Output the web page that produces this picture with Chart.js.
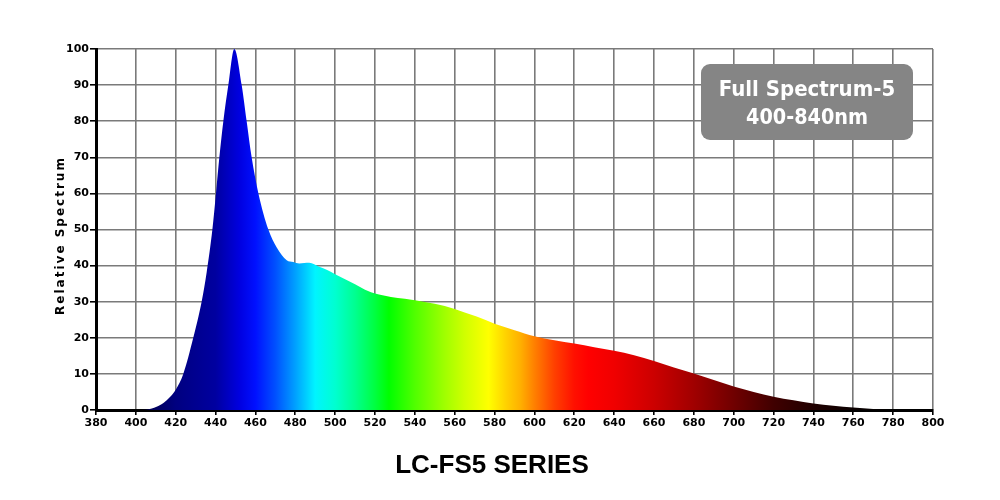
<!DOCTYPE html>
<html>
<head>
<meta charset="utf-8">
<script src="https://cdn.jsdelivr.net/npm/chart.js@4/dist/chart.umd.min.js"></script>
<style>
  html, body { margin: 0; padding: 0; background: #fff; }
  #wrap { width: 1000px; height: 500px; }
</style>
</head>
<body>
<div id="wrap"><canvas id="spectrumChart" width="1000" height="500"></canvas></div>
<script>
// Wavelength (nm) and relative intensity
const wavelengths = [380, 400, 405, 408, 410.4, 414, 417, 420, 423.8, 428.8, 433, 435.5, 438.4, 440.2, 441.9,
    443.9, 446.4, 449.4, 453.1, 455.6, 458.1, 461.5, 466.5, 470.7, 475.7, 479, 482, 487, 492, 496, 500,
    505, 510, 515, 518, 522, 528, 535, 540, 550, 560, 565, 571, 580, 590, 600, 610, 620, 630, 640, 650,
    660, 670, 680, 690, 700, 710, 720, 730, 740, 750, 760, 770, 780, 790, 800];
const intensity = [0, 0, 0.1, 0.4, 0.9, 2, 3.5, 5.6, 10, 20, 30, 38, 50, 60, 70,
    80, 90, 100, 90, 80, 70, 60, 50, 45, 41.5, 41, 40.6, 40.8, 39.7, 38.8, 37.6,
    36.2, 34.8, 33.3, 32.6, 32, 31.3, 30.8, 30.4, 29.4, 28, 27, 25.9, 23.9, 22.1, 20.4, 19.3, 18.4, 17.4, 16.4, 15.2,
    13.6, 11.8, 10.1, 8.3, 6.5, 5, 3.7, 2.7, 1.8, 1.2, 0.7, 0.3, 0.1, 0.05, 0];

const xMin = 380, xMax = 800, xStep = 20;
const yMin = 0, yMax = 100, yStep = 10;

const chartTitle = 'LC-FS5 SERIES';
const yTitle = 'Relative Spectrum';
const badgeLines = ['Full Spectrum-5', '400-840nm'];

// colour of light at each wavelength, used for the fill gradient
const spectrumStops = [
    [400, '#000040'], [420, '#000080'], [440, '#0000a0'], [452, '#0000e0'], [460, '#0010ff'],
    [470, '#0050ff'], [480, '#00a0ff'], [490, '#00f4ff'], [500, '#00ffd0'], [510, '#00ff90'],
    [520, '#00ff40'], [527, '#00ff00'], [540, '#50ff00'], [555, '#a0ff00'], [565, '#d0ff00'],
    [577, '#ffff00'], [586, '#ffd000'], [593, '#ffb000'], [600, '#ff8000'], [610, '#ff4000'],
    [620, '#ff1000'], [627, '#ff0000'], [640, '#f00000'], [660, '#cc0000'], [680, '#a00000'],
    [700, '#700000'], [720, '#400000'], [740, '#200000'], [760, '#0a0000'], [780, '#000000']
];

const points = wavelengths.map((w, i) => ({ x: w, y: intensity[i] }));

const tickFont = { family: 'DejaVu Sans', size: 11, weight: 'bold' };

// draws y title (letter spaced), bottom title and the grey badge
const extrasPlugin = {
    id: 'extras',
    afterDraw(chart) {
        const ctx = chart.ctx;
        const area = chart.chartArea;

        ctx.save();
        ctx.fillStyle = '#000';
        ctx.font = 'bold 12px "DejaVu Sans"';
        ctx.letterSpacing = '2px';
        ctx.textAlign = 'center';
        ctx.textBaseline = 'middle';
        ctx.translate(61, (area.top + area.bottom) / 2 + 6);
        ctx.rotate(-Math.PI / 2);
        ctx.fillText(yTitle, 0, 0);
        ctx.restore();

        ctx.save();
        ctx.fillStyle = '#000';
        ctx.font = 'bold 26px "Liberation Sans"';
        ctx.textAlign = 'center';
        ctx.textBaseline = 'middle';
        ctx.fillText(chartTitle, 492, 466);
        ctx.restore();

        // badge
        const bw = 212, bh = 76;
        const bx = area.right - 20 - bw, by = area.top + 15;
        ctx.save();
        ctx.fillStyle = '#858585';
        ctx.beginPath();
        ctx.roundRect(bx, by, bw, bh, 9);
        ctx.fill();
        ctx.fillStyle = '#fff';
        ctx.font = 'bold 22px "DejaVu Sans Condensed", "DejaVu Sans"';
        ctx.textAlign = 'center';
        ctx.textBaseline = 'middle';
        ctx.fillText(badgeLines[0], bx + bw / 2, by + 26, 178);
        ctx.fillText(badgeLines[1], bx + bw / 2, by + 54, 122);
        ctx.restore();
    }
};

const ctx = document.getElementById('spectrumChart').getContext('2d');
const spectrumChart = new Chart(ctx, {
    type: 'line',
    data: {
        datasets: [{
            data: points,
            fill: 'origin',
            borderWidth: 0,
            pointRadius: 0,
            cubicInterpolationMode: 'monotone',
            backgroundColor: function(context) {
                const chart = context.chart;
                if (!chart.chartArea) return '#0000ff';
                const xs = chart.scales.x;
                const x0 = xs.getPixelForValue(xMin), x1 = xs.getPixelForValue(xMax);
                const g = chart.ctx.createLinearGradient(x0, 0, x1, 0);
                spectrumStops.forEach(s => g.addColorStop((s[0] - xMin) / (xMax - xMin), s[1]));
                return g;
            }
        }]
    },
    options: {
        responsive: false,
        animation: false,
        layout: { padding: { left: 0, right: 67, top: 49, bottom: 60 } },
        plugins: {
            legend: { display: false },
            tooltip: { enabled: false },
            title: { display: false }
        },
        scales: {
            x: {
                type: 'linear',
                min: xMin,
                max: xMax,
                ticks: { stepSize: xStep, color: '#000', font: tickFont, padding: 2, maxRotation: 0 },
                grid: { color: '#7a7a7a', lineWidth: 1.6, tickColor: '#000', tickLength: 5 },
                border: { color: '#000', width: 3 },
                afterFit: function(scale) { scale.height = 30; }
            },
            y: {
                min: yMin,
                max: yMax,
                ticks: { stepSize: yStep, color: '#000', font: tickFont, padding: 1 },
                grid: { color: '#7a7a7a', lineWidth: 1.6, tickColor: '#000', tickLength: 6 },
                border: { color: '#000', width: 3 },
                afterFit: function(scale) { scale.width = 96; }
            }
        }
    },
    plugins: [extrasPlugin]
});
</script>
</body>
</html>
